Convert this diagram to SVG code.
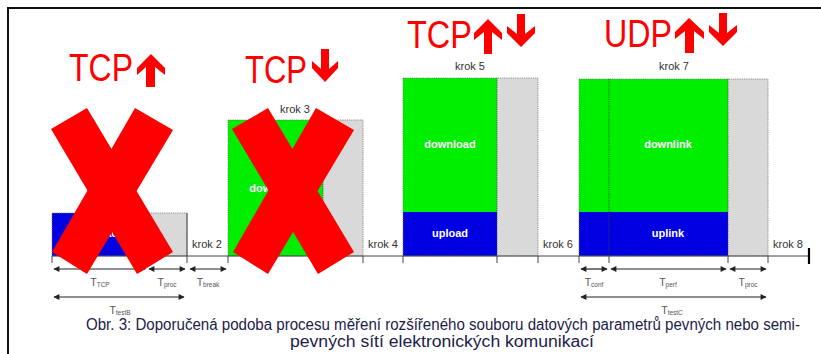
<svg xmlns="http://www.w3.org/2000/svg" width="821" height="354" viewBox="0 0 821 354">
<defs>
<style>
.frame{fill:none;stroke:#111;stroke-width:2}
.green{fill:#00ee00}
.blue{fill:#0000e0}
.gray{fill:#d9d9d9}
.outline{fill:none;stroke:#777;stroke-width:0.8;stroke-dasharray:1.2 1}
.div{stroke:#444;stroke-width:0.8;stroke-dasharray:1.2 1}
.axis{stroke:#444;stroke-width:1}
.tick{stroke:#444;stroke-width:1}
.x{fill:#ff0000}
.big{font-family:"Liberation Sans",Arial,sans-serif;font-size:39px;fill:#ff0000}
.lab{font-family:"Liberation Sans",Arial,sans-serif;font-size:11px;font-weight:bold;fill:#ffffff;text-anchor:middle}
.krok{font-family:"Liberation Sans",Arial,sans-serif;font-size:11px;fill:#333}
.t{font-family:"Liberation Sans",Arial,sans-serif;font-size:10.5px;fill:#555;text-anchor:middle}
.sub{font-size:6.5px}
.dim{stroke:#222;stroke-width:1.2;fill:none;marker-start:url(#ah);marker-end:url(#ah)}
.cap{font-family:"Liberation Sans",Arial,sans-serif;font-size:16px;fill:#1c1c4a}
</style>
<marker id="ah" viewBox="0 0 10 10" refX="9" refY="5" markerWidth="6" markerHeight="5" orient="auto-start-reverse" markerUnits="strokeWidth">
<path d="M0,0 L10,5 L0,10 z" fill="#222"/>
</marker>
</defs>
<rect width="821" height="354" fill="#ffffff"/>
<rect class="frame" x="8" y="8" width="830" height="370"/>

<g id="block1">
<rect class="blue" x="52" y="213" width="95" height="43"/>
<rect class="gray" x="147" y="213" width="40" height="43"/>
<rect class="outline" x="52" y="213" width="135" height="43"/>
<text class="lab" x="100" y="237">upload</text>
</g>
<g id="block3">
<rect class="green" x="228" y="120" width="95" height="136"/>
<rect class="gray" x="323" y="120" width="40" height="136"/>
<rect class="outline" x="228" y="120" width="135" height="136"/>
<line class="div" x1="323" y1="120" x2="323" y2="256"/>
<text class="lab" x="275" y="192">download</text>
</g>
<g id="block5">
<rect class="green" x="403" y="78" width="94" height="134"/>
<rect class="blue" x="403" y="212" width="94" height="44"/>
<rect class="gray" x="497" y="78" width="41" height="178"/>
<rect class="outline" x="403" y="78" width="135" height="178"/>
<line class="div" x1="497" y1="78" x2="497" y2="256"/>
<text class="lab" x="450" y="148">download</text>
<text class="lab" x="450" y="237">upload</text>
</g>
<g id="block7">
<rect class="green" x="579" y="79" width="149" height="133"/>
<rect class="blue" x="579" y="212" width="149" height="44"/>
<rect class="gray" x="728" y="79" width="40" height="177"/>
<rect class="outline" x="579" y="79" width="189" height="177"/>
<line class="div" x1="609" y1="79" x2="609" y2="256"/>
<line class="div" x1="728" y1="79" x2="728" y2="256"/>
<text class="lab" x="668" y="148">downlink</text>
<text class="lab" x="668" y="237">uplink</text>
</g>

<g id="connectors">
<line class="axis" x1="52" y1="256" x2="809" y2="256"/>
<path class="tick" d="M52,256V263M187,213V263M228,256V263M363,256V263M403,256V263M497,256V263M538,256V263M579,256V263M609,256V263M728,256V263M768,256V263"/>
<line x1="809" y1="248" x2="809" y2="264" stroke="#000" stroke-width="2.2"/>
<line class="dim" x1="54" y1="269" x2="145" y2="269"/>
<line class="dim" x1="149" y1="269" x2="185" y2="269"/>
<line class="dim" x1="190" y1="269" x2="226" y2="269"/>
<line class="dim" x1="54" y1="297" x2="184" y2="297"/>
<line class="dim" x1="581" y1="269" x2="607" y2="269"/>
<line class="dim" x1="611" y1="269" x2="726" y2="269"/>
<line class="dim" x1="730" y1="269" x2="766" y2="269"/>
<line class="dim" x1="581" y1="297" x2="766" y2="297"/>
</g>

<g id="crosses">
<polygon class="x" points="51,129 87,108 173,252 137,274"/>
<polygon class="x" points="135,108 173,130 87,274 52,252"/>
<polygon class="x" points="232,129 268,108 354,252 318,274"/>
<polygon class="x" points="316,108 354,130 268,274 233,252"/>
</g>

<g id="kroks">
<text class="krok" x="192" y="248">krok 2</text>
<text class="krok" x="280" y="113">krok 3</text>
<text class="krok" x="368" y="248">krok 4</text>
<text class="krok" x="455" y="70">krok 5</text>
<text class="krok" x="543" y="248">krok 6</text>
<text class="krok" x="659" y="70">krok 7</text>
<text class="krok" x="773" y="248">krok 8</text>
</g>

<g id="headings">
<text class="big" x="69" y="81" textLength="64" lengthAdjust="spacingAndGlyphs">TCP</text>
<polygon class="x" points="151,54 165,68 165,75 155,67 155,87 146,87 146,67 137,75 137,68"/>
<text class="big" x="245" y="83" textLength="62" lengthAdjust="spacingAndGlyphs">TCP</text>
<polygon class="x" points="321,49 329,49 329,69 338,61 338,68 325,82 312,68 312,61 321,69"/>
<text class="big" x="407" y="48" textLength="65" lengthAdjust="spacingAndGlyphs">TCP</text>
<polygon class="x" points="488,19 502,33 502,40 492,32 492,54 484,54 484,32 474,40 474,33"/>
<polygon class="x" points="517,14 525,14 525,34 535,26 535,33 521,47 507,33 507,26 517,34"/>
<text class="big" x="604" y="47" textLength="68" lengthAdjust="spacingAndGlyphs">UDP</text>
<polygon class="x" points="689,18 704,32 704,39 694,31 694,53 685,53 685,31 675,39 675,32"/>
<polygon class="x" points="719,13 727,13 727,33 737,25 737,32 723,46 709,32 709,25 719,33"/>
</g>

<g id="times">
<text class="t" x="100" y="286">T<tspan class="sub" dy="1">TCP</tspan></text>
<text class="t" x="167" y="286">T<tspan class="sub" dy="1">proc</tspan></text>
<text class="t" x="208" y="286">T<tspan class="sub" dy="1">break</tspan></text>
<text class="t" x="120" y="314">T<tspan class="sub" dy="1">testB</tspan></text>
<text class="t" x="594" y="286">T<tspan class="sub" dy="1">conf</tspan></text>
<text class="t" x="668" y="286">T<tspan class="sub" dy="1">perf</tspan></text>
<text class="t" x="748" y="286">T<tspan class="sub" dy="1">proc</tspan></text>
<text class="t" x="672" y="314">T<tspan class="sub" dy="1">testC</tspan></text>
</g>

<g id="caption">
<text class="cap" x="86" y="330" textLength="714" lengthAdjust="spacingAndGlyphs">Obr. 3: Doporučená podoba procesu měření rozšířeného souboru datových parametrů pevných nebo semi-</text>
<text class="cap" x="290" y="347" textLength="304" lengthAdjust="spacingAndGlyphs">pevných sítí elektronických komunikací</text>
</g>
</svg>
